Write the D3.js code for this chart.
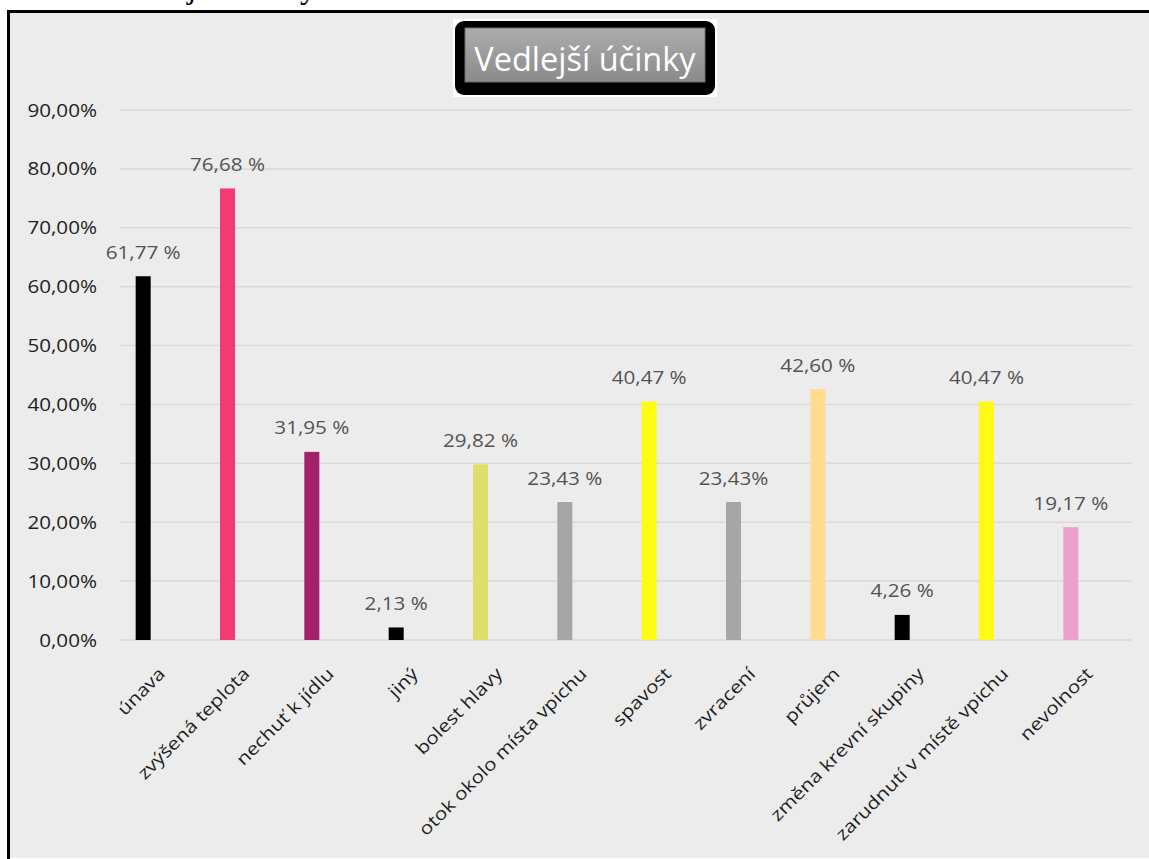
<!DOCTYPE html>
<html>
<head>
<meta charset="utf-8">
<script src="https://cdn.jsdelivr.net/npm/d3@7"></script>
<style>
  html, body { margin: 0; padding: 0; background: #ffffff; }
  svg { display: block; }
</style>
</head>
<body>
<svg id="chart" width="1149" height="859"></svg>
<script>
// Side effects reported after vaccination (share of respondents, %)
const categories = [
  "únava", "zvýšená teplota", "nechuť k jídlu", "jiný", "bolest hlavy",
  "otok okolo místa vpichu", "spavost", "zvracení", "průjem",
  "změna krevní skupiny", "zarudnutí v místě vpichu", "nevolnost"
];
const values = [61.77, 76.68, 31.95, 2.13, 29.82, 23.43, 40.47, 23.43, 42.60, 4.26, 40.47, 19.17];
const valueLabels = ["61,77 %", "76,68 %", "31,95 %", "2,13 %", "29,82 %", "23,43 %",
                     "40,47 %", "23,43%", "42,60 %", "4,26 %", "40,47 %", "19,17 %"];
const barColors = ["#000000", "#f43a72", "#a3206a", "#000000", "#dce06a", "#a6a6a6",
                   "#fffa14", "#a6a6a6", "#ffdc8f", "#000000", "#fffa14", "#eba1cc"];
const yTicks = [0, 10, 20, 30, 40, 50, 60, 70, 80, 90];
const chartTitle = "Vedlejší účinky";
const headingText = "Vedlejší účinky";

const svg = d3.select("#chart");
const font = "'Open Sans', 'Noto Sans', sans-serif";
const textScale = 1.18;   // wide lettering of the chart texts

// heading of the page above the chart, mostly cut off at the top edge
svg.append("text")
  .attr("x", 112).attr("y", -2)
  .attr("font-family", "'Liberation Serif', serif")
  .attr("font-size", 33)
  .attr("fill", "#000")
  .text(headingText);

// chart area with its frame
svg.append("rect")
  .attr("x", 9).attr("y", 12).attr("width", 1140).attr("height", 846)
  .attr("fill", "#ececec");
svg.append("line")
  .attr("x1", 7).attr("x2", 1149).attr("y1", 11.5).attr("y2", 11.5)
  .attr("stroke", "#000").attr("stroke-width", 3);
svg.append("line")
  .attr("x1", 8.5).attr("x2", 8.5).attr("y1", 10).attr("y2", 859)
  .attr("stroke", "#000").attr("stroke-width", 3);

// scales
const y = d3.scaleLinear().domain([0, 90]).range([640, 110]);
const x = d3.scaleBand().domain(categories).range([101, 1113]).paddingInner(0).paddingOuter(0);
const barWidth = 15;
const gridX0 = 120, gridX1 = 1132;

// horizontal gridlines
svg.append("g").selectAll("line")
  .data(yTicks)
  .join("line")
  .attr("x1", gridX0).attr("x2", gridX1)
  .attr("y1", d => y(d)).attr("y2", d => y(d))
  .attr("stroke", "#d9d9d9").attr("stroke-width", 1.5);

// y-axis tick labels
const fmtTick = d => d3.format(".2f")(d).replace(".", ",") + "%";
svg.append("g").selectAll("text")
  .data(yTicks)
  .join("text")
  .attr("transform", d => `translate(97,${y(d) + 6.5}) scale(${textScale},1)`)
  .attr("text-anchor", "end")
  .attr("font-family", font).attr("font-size", 17.5)
  .attr("fill", "#1f1f1f")
  .text(fmtTick);

// bars
const cx = c => x(c) + x.bandwidth() / 2;
svg.append("g").selectAll("rect")
  .data(categories)
  .join("rect")
  .attr("x", c => cx(c) - barWidth / 2)
  .attr("width", barWidth)
  .attr("y", (c, i) => y(values[i]))
  .attr("height", (c, i) => y(0) - y(values[i]))
  .attr("fill", (c, i) => barColors[i]);

// value labels above bars
svg.append("g").selectAll("text")
  .data(categories)
  .join("text")
  .attr("transform", (c, i) => `translate(${cx(c)},${y(values[i]) - 17.5}) scale(${textScale},1)`)
  .attr("text-anchor", "middle")
  .attr("font-family", font).attr("font-size", 17.5)
  .attr("fill", "#545454")
  .text((c, i) => valueLabels[i]);

// category labels, rotated
svg.append("g").selectAll("text")
  .data(categories)
  .join("text")
  .attr("transform", c => `translate(${cx(c) + 23},675) rotate(-45) scale(${textScale},1)`)
  .attr("text-anchor", "end")
  .attr("font-family", font).attr("font-size", 17.5)
  .attr("fill", "#1f1f1f")
  .text(c => c);

// title box
const tb = { x: 453, y: 19, w: 264, h: 78 };
const defs = svg.append("defs");
const grad = defs.append("linearGradient").attr("id", "titleFill")
  .attr("x1", 0).attr("x2", 0).attr("y1", 0).attr("y2", 1);
grad.append("stop").attr("offset", 0).attr("stop-color", "#adadad");
grad.append("stop").attr("offset", 1).attr("stop-color", "#8a8a8a");

svg.append("rect")
  .attr("x", tb.x).attr("y", tb.y).attr("width", tb.w).attr("height", tb.h)
  .attr("fill", "#ffffff");
svg.append("rect")
  .attr("x", tb.x + 2).attr("y", tb.y + 2).attr("width", tb.w - 4).attr("height", tb.h - 4)
  .attr("rx", 9).attr("fill", "#000000");
svg.append("rect")
  .attr("x", 465).attr("y", 28).attr("width", 240).attr("height", 54)
  .attr("fill", "url(#titleFill)").attr("stroke", "#6e6e6e").attr("stroke-width", 1);
svg.append("text")
  .attr("x", 585).attr("y", 71)
  .attr("text-anchor", "middle")
  .attr("font-family", font).attr("font-size", 32.5)
  .attr("fill", "#ffffff")
  .text(chartTitle);
</script>
</body>
</html>
